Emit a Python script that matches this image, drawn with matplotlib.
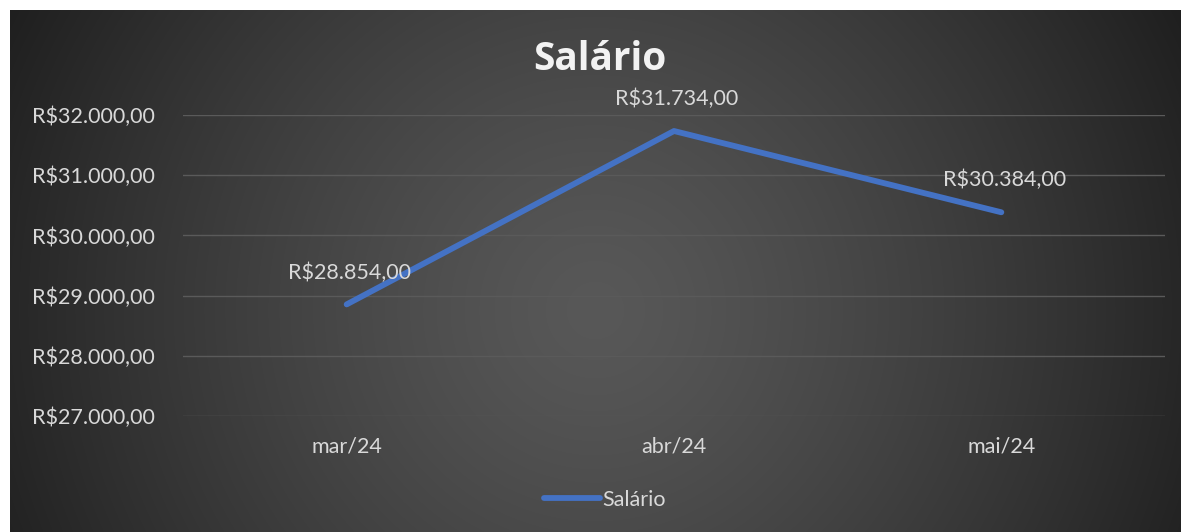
import matplotlib
matplotlib.use("Agg")
import matplotlib.pyplot as plt
import numpy as np

meses = ["mar/24", "abr/24", "mai/24"]
salario = [28854, 31734, 30384]
y_ticks = [27000, 28000, 29000, 30000, 31000, 32000]

def brl(v):
    s = f"{v:,.2f}"
    s = s.replace(",", "X").replace(".", ",").replace("X", ".")
    return "R$" + s

plt.rcParams["font.family"] = ["Lato", "DejaVu Sans"]

W, H = 1181, 532
fig = plt.figure(figsize=(W / 100, H / 100), dpi=100, facecolor="white")

# fundo com gradiente radial
bg = fig.add_axes([10 / W, 0, 1 - 10 / W, 1 - 10 / H])
yy, xx = np.mgrid[0:522, 0:1171]
r = np.sqrt((xx - 585) ** 2 + (yy - 300) ** 2) / 650
r = np.clip(r, 0, 1)
vals = 0.345 - (0.345 - 0.125) * r ** 1.3
img = np.dstack([vals, vals, vals])
bg.imshow(img, aspect="auto", extent=[0, 1, 0, 1], origin="upper")
bg.set_axis_off()

ax = fig.add_axes([183 / W, 1 - 416 / H, (1165 - 183) / W, (416 - 115) / H])
ax.patch.set_alpha(0)
x = np.arange(len(meses))
ax.plot(x, salario, color="#4472C4", lw=4.2, solid_capstyle="round", clip_on=False, label="Salário")
ax.set_xlim(-0.5, len(meses) - 0.5)
ax.set_ylim(y_ticks[0], y_ticks[-1])
ax.set_yticks(y_ticks)
ax.set_yticklabels([brl(v) for v in y_ticks])
ax.set_xticks(x)
ax.set_xticklabels(meses)
ax.tick_params(colors="#d9d9d9", labelsize=15.5, length=0)
ax.tick_params(axis="y", pad=20)
ax.tick_params(axis="x", pad=15)
ax.grid(axis="y", color="#5a5a5a", lw=1)
for s in ax.spines.values():
    s.set_visible(False)

for xi, v in zip(x, salario):
    ax.annotate(brl(v), (xi, v), xytext=(2, 23), textcoords="offset points",
                ha="center", va="center", color="#d9d9d9", fontsize=15.5)

fig.text(600 / W, 1 - 59 / H, "Salário", ha="center", va="center", color="#f2f2f2",
         fontsize=28, fontweight="bold", family=["Open Sans", "DejaVu Sans"])

leg = fig.legend(loc="center", bbox_to_anchor=(605 / W, 1 - 500 / H), frameon=False,
                 fontsize=15.5, labelcolor="#d9d9d9", handlelength=2.6, handletextpad=0.1)

fig.savefig("out.png", dpi=100, facecolor="white")
